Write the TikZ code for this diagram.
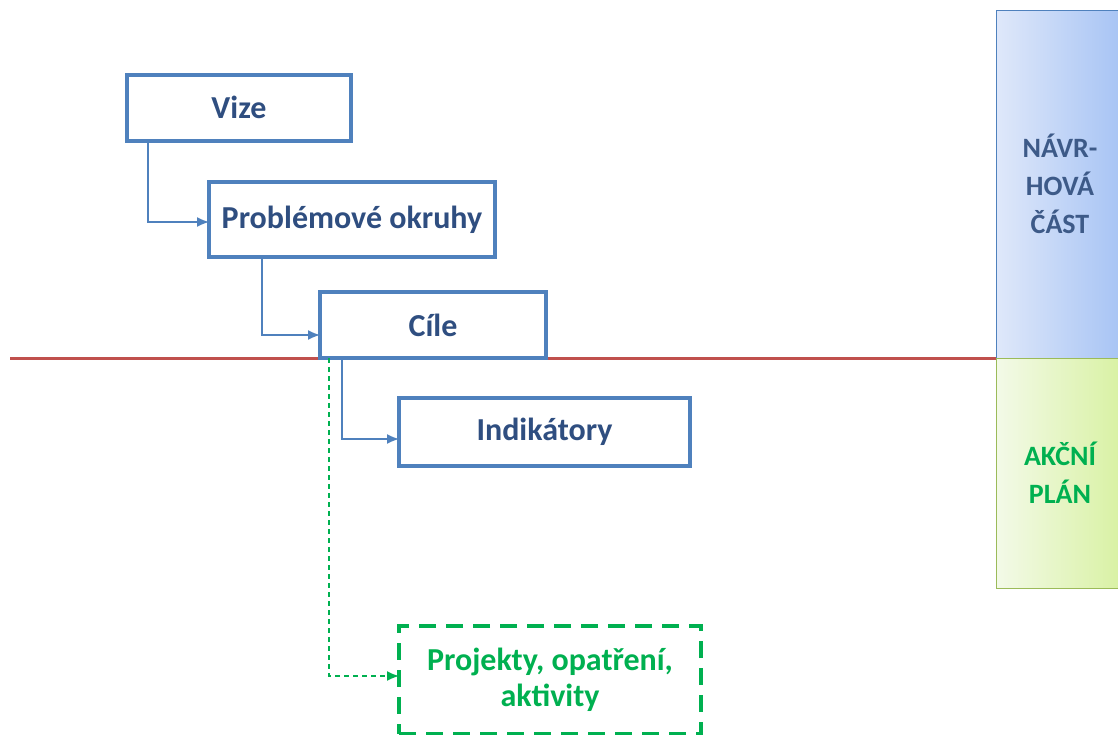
\documentclass[tikz,border=0pt]{standalone}
\usepackage{fontspec}
\setmainfont{Carlito}
\usepackage{tikz}
\usetikzlibrary{arrows.meta}
\definecolor{bline}{HTML}{4F81BD}
\definecolor{btext}{HTML}{2F4E80}
\definecolor{ctext}{HTML}{3D5A88}
\definecolor{gtext}{HTML}{00B050}
\definecolor{gline}{HTML}{9BBB59}
\definecolor{rline}{HTML}{C0504D}
\definecolor{navleft}{HTML}{DFE8FA}
\definecolor{navright}{HTML}{A6C3F4}
\definecolor{akcleft}{HTML}{F3FAE8}
\definecolor{akcright}{HTML}{D8F1A2}
\tikzstyle{block} = [rectangle, draw=bline, line width=4pt, inner sep=0pt, outer sep=0pt, align=center, text=btext, font=\fontsize{32}{36}\selectfont\bfseries]
\tikzstyle{greenblock} = [block, draw=gtext, dash pattern=on 17pt off 10pt, text=gtext]
\tikzstyle{column} = [rectangle, draw, line width=1pt, inner sep=0pt, outer sep=0pt, align=center, minimum width=128pt, font=\fontsize{28}{38}\selectfont\bfseries]
\tikzstyle{arrow} = [draw=bline, line width=1.5pt, -{Latex[length=12pt,width=10pt]}]
\tikzstyle{dasharrow} = [draw=gtext, line width=1.5pt, dash pattern=on 5pt off 4pt, -{Latex[length=12pt,width=10pt]}]

\begin{document}
\begin{tikzpicture}[x=1pt, y=-1pt]
\useasboundingbox (0,0) rectangle (1118,734);

%% right column
\node[column, draw=bline, left color=navleft, right color=navright, text=ctext, minimum height=348pt] at (1060,184) (navrh) {NÁVR-\\HOVÁ\\ČÁST};
\node[column, draw=gline, left color=akcleft, right color=akcright, text=gtext, minimum height=230pt] at (1060,473) (akcni) {AKČNÍ\\PLÁN};

%% red divider
\coordinate (lstart) at (10,358);
\draw[rline, line width=3pt] (lstart) -- (navrh.south west);

%% blocks
\node[block, minimum width=224pt, minimum height=66pt] at (239,107.5) (vize) {Vize};
\node[block, minimum width=286pt, minimum height=75pt] at (352,219.5) (okruhy) {Problémové okruhy};
\node[block, minimum width=226pt, minimum height=66pt] at (433,325) (cile) {Cíle};
\node[block, minimum width=291pt, minimum height=68pt] at (544.5,432) (indikatory) {Indikátory};
\node[greenblock, minimum width=302pt, minimum height=108pt] at (550,680) (projekty) {Projekty, opatření,\\aktivity};

%% connectors
\path[arrow] ([xshift=21pt]vize.south west) |- ([yshift=-2.5pt]okruhy.west);
\path[arrow] ([xshift=53pt]okruhy.south west) |- ([yshift=-10pt]cile.west);
\path[arrow] ([xshift=22pt]cile.south west) |- ([yshift=-7pt]indikatory.west);
\path[dasharrow] ([xshift=9pt]cile.south west) |- ([yshift=4pt]projekty.west);

\end{tikzpicture}
\end{document}
